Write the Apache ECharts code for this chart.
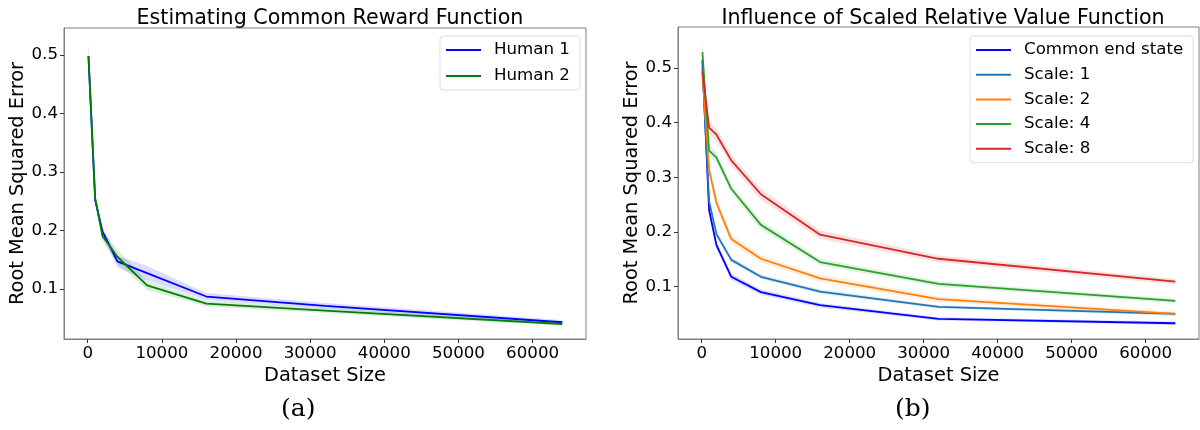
<!DOCTYPE html>
<html>
<head>
<meta charset="utf-8">
<script src="https://cdn.jsdelivr.net/npm/echarts@6/dist/echarts.min.js"></script>
<style>
html,body{margin:0;padding:0;background:#fff;}
#chart{width:1200px;height:430px;}
</style>
</head>
<body>
<div id="chart"></div>
<script>
// ---- data ----
const datasetSizes = [100, 1000, 2000, 4000, 8000, 16000, 32000, 64000];
const xTicks = [0, 10000, 20000, 30000, 40000, 50000, 60000];
const yTicksA = [0.1, 0.2, 0.3, 0.4, 0.5];
const yTicksB = [0.1, 0.2, 0.3, 0.4, 0.5];

const human1 = [0.498, 0.252, 0.198, 0.147, 0.127, 0.087, 0.071, 0.043];
const human1Sd = [0.025, 0.008, 0.008, 0.010, 0.012, 0.006, 0.005, 0.004];
const human2 = [0.498, 0.255, 0.190, 0.155, 0.106, 0.075, 0.063, 0.040];
const human2Sd = [0.020, 0.008, 0.010, 0.012, 0.008, 0.005, 0.004, 0.003];

const commonEnd = [0.515, 0.240, 0.176, 0.118, 0.090, 0.066, 0.041, 0.033];
const commonEndSd = [0.035, 0.010, 0.007, 0.006, 0.005, 0.004, 0.003, 0.003];
const scale1 = [0.500, 0.256, 0.196, 0.149, 0.118, 0.091, 0.063, 0.050];
const scale1Sd = [0.020, 0.008, 0.006, 0.005, 0.004, 0.004, 0.003, 0.003];
const scale2 = [0.490, 0.314, 0.253, 0.187, 0.151, 0.115, 0.077, 0.050];
const scale2Sd = [0.020, 0.010, 0.010, 0.008, 0.007, 0.006, 0.005, 0.004];
const scale4 = [0.529, 0.349, 0.336, 0.279, 0.213, 0.145, 0.105, 0.074];
const scale4Sd = [0.020, 0.010, 0.010, 0.008, 0.008, 0.006, 0.005, 0.004];
const scale8 = [0.494, 0.391, 0.378, 0.331, 0.269, 0.195, 0.151, 0.109];
const scale8Sd = [0.020, 0.012, 0.012, 0.010, 0.010, 0.008, 0.006, 0.005];

const titles = ['Estimating Common Reward Function', 'Influence of Scaled Relative Value Function'];
const captions = ['(a)', '(b)'];

// ---- build ----
const FONT = 'DejaVu Sans';
function hexA(c, a) {
  const n = parseInt(c.slice(1), 16);
  return 'rgba(' + ((n >> 16) & 255) + ',' + ((n >> 8) & 255) + ',' + (n & 255) + ',' + a + ')';
}
const series = [];
function addSeries(name, vals, sd, color, gi, bandAlpha) {
  const bandData = datasetSizes.map((x, i) => [x, vals[i] - sd[i], vals[i] + sd[i]]);
  series.push({
    type: 'custom', xAxisIndex: gi, yAxisIndex: gi, silent: true, z: 1,
    data: bandData,
    clip: true,
    renderItem: function (params, api) {
      if (params.dataIndex !== 0) return null;
      const up = bandData.map(d => api.coord([d[0], d[2]]));
      const lo = bandData.map(d => api.coord([d[0], d[1]])).reverse();
      return {type: 'polygon', shape: {points: up.concat(lo)}, style: {fill: hexA(color, bandAlpha), stroke: null}};
    }
  });
  series.push({
    name: name, type: 'line', xAxisIndex: gi, yAxisIndex: gi, symbol: 'none', z: 3,
    itemStyle: {color: color}, lineStyle: {color: color, width: 1.8},
    data: datasetSizes.map((x, i) => [x, vals[i]])
  });
}
addSeries('Human 1', human1, human1Sd, '#0000ff', 0, 0.14);
addSeries('Human 2', human2, human2Sd, '#008000', 0, 0.14);
addSeries('Common end state', commonEnd, commonEndSd, '#0000ff', 1, 0.14);
addSeries('Scale: 1', scale1, scale1Sd, '#1f77b4', 1, 0.14);
addSeries('Scale: 2', scale2, scale2Sd, '#ff7f0e', 1, 0.14);
addSeries('Scale: 4', scale4, scale4Sd, '#2ca02c', 1, 0.14);
addSeries('Scale: 8', scale8, scale8Sd, '#d62728', 1, 0.14);

const grids = [
  {left: 64, top: 28, width: 522, height: 311},
  {left: 678, top: 27, width: 521, height: 312}
];
function xAxis(gi) {
  return {
    type: 'value', gridIndex: gi, min: -3200, max: 67200,
    name: 'Dataset Size', nameLocation: 'middle', nameGap: 25,
    nameTextStyle: {fontFamily: FONT, fontSize: 19.4, color: '#000'},
    axisLine: {show: true, onZero: false, lineStyle: {color: '#808080', width: 1}},
    axisTick: {show: true, length: 4, customValues: xTicks, lineStyle: {color: '#333'}},
    axisLabel: {customValues: xTicks, fontFamily: FONT, fontSize: 16.67, color: '#000', margin: 6,
      formatter: v => String(v)},
    splitLine: {show: false}
  };
}
function yAxis(gi, min, max, ticks) {
  return {
    type: 'value', gridIndex: gi, min: min, max: max,
    name: 'Root Mean Squared Error', nameLocation: 'middle', nameGap: 37, nameRotate: 90,
    nameTextStyle: {fontFamily: FONT, fontSize: 19.4, color: '#000'},
    axisLine: {show: true, onZero: false, lineStyle: {color: '#808080', width: 1}},
    axisTick: {show: true, length: 4, customValues: ticks, lineStyle: {color: '#333'}},
    axisLabel: {customValues: ticks, fontFamily: FONT, fontSize: 16.67, color: '#000', margin: 6,
      formatter: v => v.toFixed(1)},
    splitLine: {show: false}
  };
}
function legend(names, left, gap) {
  return {
    data: names.map(n => ({name: n, icon: 'rect'})), orient: 'vertical', left: left, top: 36,
    itemWidth: 35, itemHeight: 2, itemGap: gap,
    padding: [4, 10, 4, 6],
    borderColor: '#dddddd', borderWidth: 1, borderRadius: 3, backgroundColor: '#fff',
    textStyle: {fontFamily: FONT, fontSize: 16.67, color: '#000', padding: [0, 0, 0, 8], lineHeight: 20}
  };
}

const option = {
  animation: false,
  backgroundColor: '#fff',
  grid: grids.map(g => Object.assign({show: true, borderColor: '#808080', borderWidth: 1, backgroundColor: 'transparent'}, g)),
  xAxis: [xAxis(0), xAxis(1)],
  yAxis: [yAxis(0, 0.0144, 0.546, yTicksA), yAxis(1, 0.0042, 0.575, yTicksB)],
  legend: [
    legend(['Human 1', 'Human 2'], 440, 6),
    legend(['Common end state', 'Scale: 1', 'Scale: 2', 'Scale: 4', 'Scale: 8'], 970, 4.7)
  ],
  title: [
    {text: titles[0], left: 325, top: 3, textAlign: 'center', textStyle: {fontFamily: FONT, fontSize: 20.6, fontWeight: 'normal', color: '#000'}},
    {text: titles[1], left: 938, top: 3, textAlign: 'center', textStyle: {fontFamily: FONT, fontSize: 20.6, fontWeight: 'normal', color: '#000'}}
  ],
  graphic: [
    {type: 'text', left: 281, top: 397, style: {text: captions[0], font: '25px "DejaVu Serif"', fill: '#000'}},
    {type: 'text', left: 895, top: 397, style: {text: captions[1], font: '25px "DejaVu Serif"', fill: '#000'}}
  ],
  series: series
};
const chart = echarts.init(document.getElementById('chart'), null, {renderer: 'canvas'});
chart.setOption(option);
</script>
</body>
</html>
